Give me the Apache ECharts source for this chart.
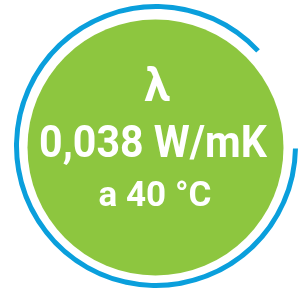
<!DOCTYPE html>
<html>
<head>
<meta charset="utf-8">
<script src="https://cdn.jsdelivr.net/npm/echarts@6/dist/echarts.min.js"></script>
<style>
html,body{margin:0;padding:0;background:#fff;}
#c{width:308px;height:293px;}
</style>
</head>
<body>
<div id="c"></div>
<script>
// Data
var ringParts = [
  {name: 'gap', value: 44},
  {name: 'ring', value: 316}
];
var discParts = [{name: 'disc', value: 1}];
var textLines = ['λ', '0,038 W/mK', 'a 40 °C'];

var GREEN = '#8DC63F';
var BLUE = '#0A9FDC';

var chart = echarts.init(document.getElementById('c'), null, {renderer: 'canvas'});
chart.setOption({
  animation: false,
  backgroundColor: '#ffffff',
  series: [
    {
      type: 'pie',
      silent: true,
      center: [155.5, 147.5],
      radius: [0, 128],
      label: {show: false},
      labelLine: {show: false},
      emphasis: {disabled: true},
      itemStyle: {color: GREEN, borderWidth: 0},
      data: discParts
    },
    {
      type: 'pie',
      silent: true,
      center: [156, 146],
      radius: [137, 142],
      startAngle: 43,
      clockwise: true,
      label: {show: false},
      labelLine: {show: false},
      emphasis: {disabled: true},
      data: ringParts.map(function (d, i) {
        return {
          name: d.name,
          value: d.value,
          itemStyle: {color: i === 0 ? 'rgba(0,0,0,0)' : BLUE, borderWidth: 0}
        };
      })
    }
  ],
  graphic: [
    {
      type: 'text', silent: true, z: 100, x: 157, y: 89,
      style: {text: textLines[0], x: 0, y: 0, align: 'center', verticalAlign: 'middle',
        fill: '#fff', font: 'bold 46px Roboto'}
    },
    {
      type: 'text', silent: true, z: 100, x: 153, y: 146, scaleX: 0.935,
      style: {text: textLines[1], x: 0, y: 0, align: 'center', verticalAlign: 'middle',
        fill: '#fff', font: 'bold 44px Roboto'}
    },
    {
      type: 'text', silent: true, z: 100, x: 155, y: 197,
      style: {text: textLines[2], x: 0, y: 0, align: 'center', verticalAlign: 'middle',
        fill: '#fff', font: 'bold 35px Roboto'}
    }
  ]
});
</script>
</body>
</html>
